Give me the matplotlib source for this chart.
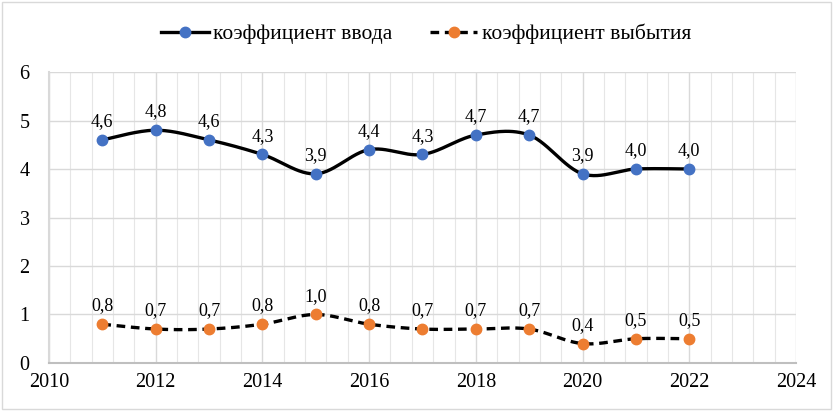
import numpy as np
import matplotlib.pyplot as plt
from matplotlib.patches import Rectangle

plt.rcParams['font.family'] = ['Liberation Serif', 'DejaVu Serif']

years = [2011, 2012, 2013, 2014, 2015, 2016, 2017, 2018, 2019, 2020, 2021, 2022]
k_vvoda = [4.6, 4.8, 4.6, 4.3, 3.9, 4.4, 4.3, 4.7, 4.7, 3.9, 4.0, 4.0]
k_vybytiya = [0.8, 0.7, 0.7, 0.8, 1.0, 0.8, 0.7, 0.7, 0.7, 0.4, 0.5, 0.5]
labels_vvoda = ['4,6', '4,8', '4,6', '4,3', '3,9', '4,4', '4,3', '4,7', '4,7', '3,9', '4,0', '4,0']
labels_vybytiya = ['0,8', '0,7', '0,7', '0,8', '1,0', '0,8', '0,7', '0,7', '0,7', '0,4', '0,5', '0,5']


def smooth(x, y, n=30):
    # Excel-like smoothed line: cubic Bezier with Catmull-Rom control points
    x = np.asarray(x, float)
    y = np.asarray(y, float)
    px = np.concatenate([[x[0]], x, [x[-1]]])
    py = np.concatenate([[y[0]], y, [y[-1]]])
    xs, ys = [], []
    t = np.linspace(0, 1, n)
    for i in range(1, len(px) - 2):
        p0 = np.array([px[i], py[i]])
        p3 = np.array([px[i + 1], py[i + 1]])
        p1 = p0 + (p3 - np.array([px[i - 1], py[i - 1]])) / 6
        p2 = p3 - (np.array([px[i + 2], py[i + 2]]) - p0) / 6
        b = ((1 - t) ** 3)[:, None] * p0 + (3 * (1 - t) ** 2 * t)[:, None] * p1 \
            + (3 * (1 - t) * t ** 2)[:, None] * p2 + (t ** 3)[:, None] * p3
        xs.extend(b[:, 0])
        ys.extend(b[:, 1])
    return xs, ys


fig = plt.figure(figsize=(8.33, 4.11), dpi=100)
ax = fig.add_axes([0.0588, 0.1168, 0.8968, 0.708])

dash = (0, (2.6, 1.7))
sx, sy = smooth(years, k_vvoda)
ax.plot(sx, sy, color='black', lw=2.4, zorder=3)
ax.plot(years, k_vvoda, 'o', color='#4472C4', ms=7.5, zorder=4)
sx, sy = smooth(years, k_vybytiya)
ax.plot(sx, sy, color='black', lw=2.4, ls=dash, zorder=3)
ax.plot(years, k_vybytiya, 'o', color='#ED7D31', ms=7.5, zorder=4)

# legend proxies
ax.plot([], [], color='black', lw=2.4, marker='o', mfc='#4472C4', mec='#4472C4', ms=7.5, label='коэффициент ввода')
ax.plot([], [], color='black', lw=2.4, ls=dash, marker='o', mfc='#ED7D31', mec='#ED7D31', ms=7.5,
        label='коэффициент выбытия')
ax.legend(loc='center', bbox_to_anchor=(0.505, 1.13), ncol=2, frameon=False, fontsize=15.5,
          handlelength=2.2, handletextpad=0.2, columnspacing=1.75)

for x, y, s in zip(years, k_vvoda, labels_vvoda):
    ax.annotate(s, (x, y), xytext=(0, 7), textcoords='offset points', ha='center', va='bottom', fontsize=13)
for x, y, s in zip(years, k_vybytiya, labels_vybytiya):
    ax.annotate(s, (x, y), xytext=(0, 7), textcoords='offset points', ha='center', va='bottom', fontsize=13)

ax.set_xlim(2010, 2024)
ax.set_ylim(0, 6)
ax.set_xticks(range(2010, 2025, 2))
ax.set_xticks(np.arange(2010, 2024.01, 0.4), minor=True)
ax.set_yticks(range(0, 7))
ax.grid(True, which='major', axis='both', color='#D9D9D9', lw=1)
ax.grid(True, which='minor', axis='x', color='#E6E6E6', lw=0.8)
ax.set_axisbelow(True)
ax.tick_params(axis='both', which='both', length=0, labelsize=14.5, pad=7)
ax.tick_params(axis='y', pad=14)
for side in ['top', 'right']:
    ax.spines[side].set_visible(False)
ax.spines['left'].set_color('#D9D9D9')
ax.spines['bottom'].set_color('#BFBFBF')
ax.spines['left'].set_linewidth(1.5)
ax.spines['bottom'].set_linewidth(1.5)

fig.add_artist(Rectangle((0.003, 0.005), 0.994, 0.99, transform=fig.transFigure, fill=False,
                         edgecolor='#D9D9D9', lw=1))

fig.savefig('out.png', dpi=100)
